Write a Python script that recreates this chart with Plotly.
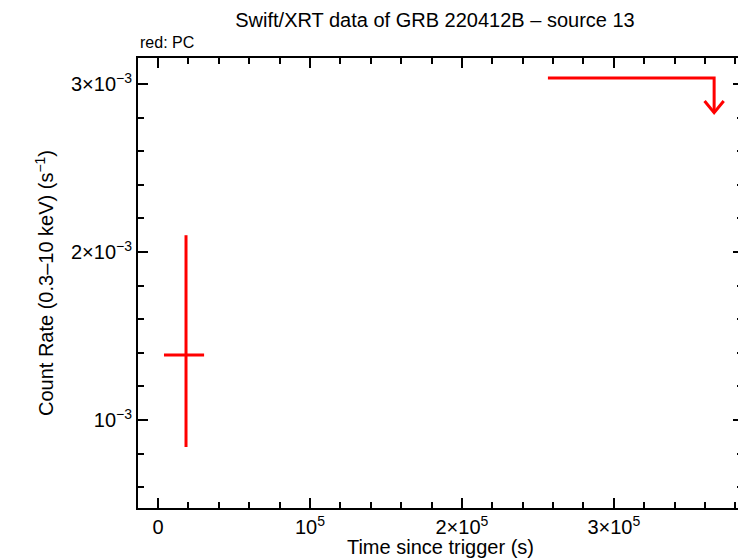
import plotly.graph_objects as go

# --- data ---
pc_time = [1.84e4]
pc_time_err_minus = [1.45e4]
pc_time_err_plus = [1.19e4]
pc_rate = [1.387e-3]
pc_rate_err_plus = [0.713e-3]
pc_rate_err_minus = [0.548e-3]

ul_time_start = [2.566e5]
ul_time_end = [3.66e5]
ul_rate = [3.036e-3]

x_tickvals = [0, 1e5, 2e5, 3e5]
x_ticktext = ["0", "10<sup>5</sup>", "2×10<sup>5</sup>", "3×10<sup>5</sup>"]
y_tickvals = [1e-3, 2e-3, 3e-3]
y_ticktext = ["10<sup>−3</sup>", "2×10<sup>−3</sup>", "3×10<sup>−3</sup>"]

RED = "#ff0000"
FONT = "Liberation Sans, Arial, Helvetica, sans-serif"

W, H = 738, 550  # page body has an 8px margin

fig = go.Figure()

fig.add_trace(go.Scatter(
    x=pc_time, y=pc_rate, mode="markers",
    marker=dict(size=1, color=RED),
    error_x=dict(type="data", symmetric=False, array=pc_time_err_plus,
                 arrayminus=pc_time_err_minus, color=RED, thickness=3, width=0),
    error_y=dict(type="data", symmetric=False, array=pc_rate_err_plus,
                 arrayminus=pc_rate_err_minus, color=RED, thickness=3, width=0),
    showlegend=False, hoverinfo="skip",
))

# upper limits: horizontal bar + downward arrow at the end
for xs, xe, yv in zip(ul_time_start, ul_time_end, ul_rate):
    tip = yv * 0.932
    wing_y = yv * 0.955
    wing_dx = 6.3e3
    fig.add_trace(go.Scatter(
        x=[xs, xe, xe, None, xe - wing_dx, xe, xe + wing_dx],
        y=[yv, yv, tip, None, wing_y, tip, wing_y],
        mode="lines", line=dict(color=RED, width=3),
        showlegend=False, hoverinfo="skip",
    ))

axis_common = dict(
    showgrid=False, zeroline=False, showline=True, linecolor="black",
    linewidth=2, mirror="allticks", ticks="inside", tickwidth=2,
    tickcolor="black", ticklen=10, automargin=False,
    tickfont=dict(family=FONT, size=20, color="black"),
)

fig.update_xaxes(
    range=[-1.32e4, 3.85e5], tickmode="array", tickvals=x_tickvals,
    ticktext=x_ticktext,
    minor=dict(dtick=2e4, tick0=0, ticks="inside", ticklen=6,
               tickwidth=2, tickcolor="black"),
    title=dict(text="Time since trigger (s)",
               font=dict(family=FONT, size=20, color="black"), standoff=2),
    **axis_common,
)
fig.update_yaxes(
    range=[0.476e-3, 3.155e-3], tickmode="array", tickvals=y_tickvals,
    ticktext=y_ticktext,
    minor=dict(dtick=0.2e-3, tick0=0, ticks="inside", ticklen=6,
               tickwidth=2, tickcolor="black"),
    title=dict(text="Count Rate (0.3–10 keV) (s<sup>−1</sup>)",
               font=dict(family=FONT, size=20, color="black"), standoff=12),
    **axis_common,
)

fig.update_layout(
    width=W, height=H,
    margin=dict(l=130, r=3, t=50, b=50),
    paper_bgcolor="white", plot_bgcolor="white",
    title=dict(text="Swift/XRT data of GRB 220412B – source 13",
               x=(435 - 8) / W, xanchor="center", y=1 - 12 / H,
               yanchor="middle",
               font=dict(family=FONT, size=20, color="black")),
    annotations=[dict(text="red: PC", xref="paper", yref="paper",
                      x=0, y=1, xanchor="left", yanchor="bottom", yshift=5,
                      showarrow=False,
                      font=dict(family=FONT, size=16, color="black"))],
)

fig.write_html("out.html")
